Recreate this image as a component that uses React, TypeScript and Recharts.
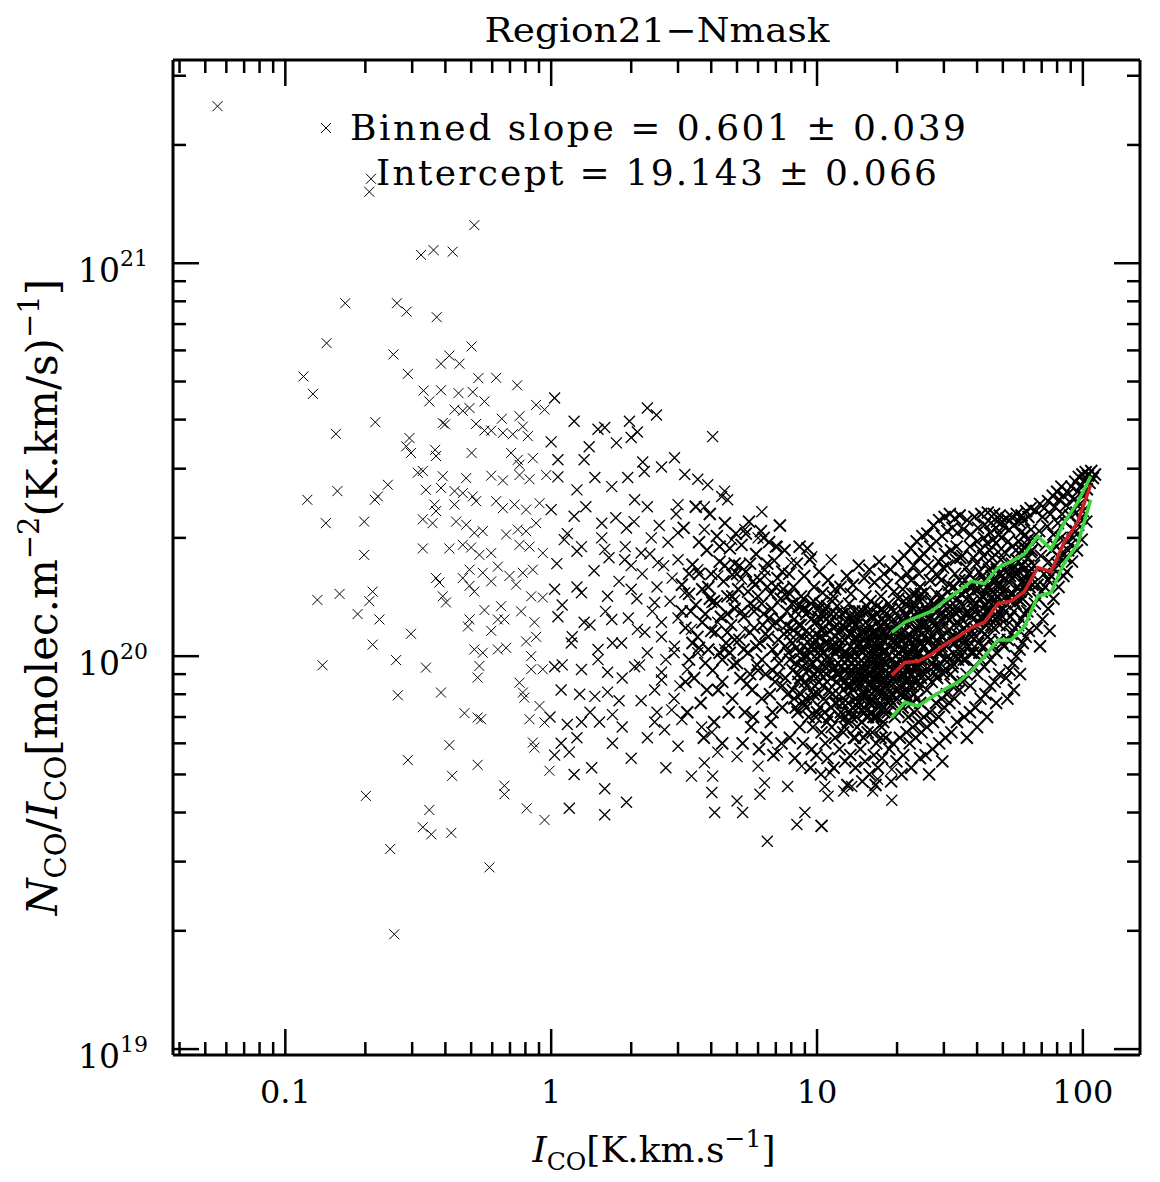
import { ScatterChart, Scatter, XAxis, YAxis } from 'recharts';

const FONT = '"DejaVu Serif", serif';

const X_MIN = 0.0378;
const X_MAX = 164;
const Y_MIN = 9.66e18;
const Y_MAX = 3.29e21;
// ratio values below are written in units of 1e20
const Y_UNIT = 1e20;

const xTicks = [
  0.04, 0.05, 0.06, 0.07, 0.08, 0.09, 0.1, 0.2, 0.3, 0.4, 0.5, 0.6, 0.7, 0.8, 0.9,
  1, 2, 3, 4, 5, 6, 7, 8, 9, 10, 20, 30, 40, 50, 60, 70, 80, 90, 100,
];
const yTicks = [
  1e19, 2e19, 3e19, 4e19, 5e19, 6e19, 7e19, 8e19, 9e19, 1e20, 2e20, 3e20, 4e20, 5e20,
  6e20, 7e20, 8e20, 9e20, 1e21, 2e21, 3e21,
];

// faint low-intensity pixels, I_CO < 1
const lowPixels = [
  [0.0556, 25.1], [0.21, 16.4], [0.207, 15.2], [0.514, 12.5], [0.324, 10.5], [0.361, 10.8], [0.426, 10.7],
  [0.168, 7.91], [0.263, 7.91], [0.286, 7.53], [0.371, 7.29], [0.143, 6.26], [0.255, 5.86], [0.502, 6.14],
  [0.414, 5.82], [0.385, 5.55], [0.452, 5.55], [0.289, 5.23], [0.117, 5.15], [0.127, 4.65], [0.532, 5.1],
  [0.621, 5.11], [0.745, 4.89], [0.331, 4.74], [0.385, 4.75], [0.448, 4.67], [0.507, 4.7], [0.348, 4.45],
  [0.561, 4.45], [0.433, 4.24], [0.465, 4.21], [0.493, 4.28], [0.878, 4.36], [0.944, 4.24], [0.218, 3.94],
  [0.155, 3.68], [0.391, 3.92], [0.399, 3.89], [0.522, 3.9], [0.561, 3.75], [0.595, 3.75], [0.652, 4.02],
  [0.76, 4.08], [0.658, 3.7], [0.717, 3.67], [0.782, 3.84], [0.817, 3.63], [0.293, 3.59], [0.285, 3.42],
  [0.297, 3.29], [0.366, 3.35], [0.369, 3.23], [0.502, 3.29], [0.707, 3.29], [0.749, 3.16], [0.853, 3.19],
  [0.315, 2.93], [0.329, 2.96], [0.391, 2.87], [0.479, 2.84], [0.595, 2.88], [0.76, 2.89], [0.958, 2.89],
  [0.658, 2.8], [0.829, 2.82], [0.76, 3.07], [0.243, 2.73], [0.223, 2.55], [0.217, 2.5], [0.157, 2.63],
  [0.121, 2.5], [0.338, 2.65], [0.385, 2.68], [0.433, 2.63], [0.465, 2.6], [0.507, 2.55], [0.522, 2.48],
  [0.621, 2.48], [0.658, 2.38], [0.728, 2.43], [0.805, 2.36], [0.904, 2.45], [0.364, 2.43], [0.369, 2.34],
  [0.433, 2.43], [0.142, 2.18], [0.198, 2.2], [0.329, 2.23], [0.358, 2.18], [0.439, 2.2], [0.479, 2.16],
  [0.553, 2.08], [0.514, 2.06], [0.677, 2.04], [0.749, 2.1], [0.805, 2.08], [0.878, 2.18], [0.198, 1.81],
  [0.329, 1.88], [0.414, 1.88], [0.465, 1.92], [0.5, 1.89], [0.537, 1.81], [0.595, 1.83], [0.76, 1.92],
  [0.829, 1.9], [0.93, 1.83], [0.493, 1.66], [0.553, 1.63], [0.63, 1.69], [0.697, 1.6], [0.782, 1.63],
  [0.853, 1.66], [0.369, 1.58], [0.38, 1.54], [0.465, 1.58], [0.493, 1.51], [0.514, 1.46], [0.595, 1.55],
  [0.738, 1.52], [0.132, 1.39], [0.16, 1.44], [0.213, 1.46], [0.207, 1.38], [0.391, 1.42], [0.402, 1.37],
  [0.841, 1.42], [0.93, 1.41], [0.187, 1.28], [0.226, 1.24], [0.561, 1.31], [0.648, 1.34], [0.771, 1.3],
  [0.667, 1.24], [0.63, 1.24], [0.865, 1.22], [0.493, 1.24], [0.486, 1.19], [0.297, 1.14], [0.595, 1.16],
  [0.805, 1.09], [0.878, 1.12], [0.213, 1.07], [0.514, 1.04], [0.553, 1.02], [0.63, 1.04], [0.677, 1.05],
  [0.841, 1.0], [0.138, 0.948], [0.261, 0.977], [0.338, 0.935], [0.537, 0.944], [0.529, 0.882], [0.841, 0.926],
  [0.93, 0.926], [0.76, 0.856], [0.782, 0.808], [0.793, 0.784], [0.904, 0.747], [0.265, 0.795], [0.385, 0.808],
  [0.472, 0.716], [0.529, 0.698], [0.545, 0.691], [0.829, 0.691], [0.944, 0.678], [0.414, 0.594], [0.853, 0.603],
  [0.865, 0.585], [0.289, 0.544], [0.529, 0.529], [0.424, 0.496], [0.985, 0.511], [0.201, 0.441], [0.667, 0.468],
  [0.667, 0.445], [0.348, 0.406], [0.809, 0.41], [0.944, 0.383], [0.329, 0.367], [0.354, 0.352], [0.421, 0.355],
  [0.248, 0.323], [0.586, 0.29], [0.257, 0.196],
];

// I_CO between 1 and ~3, plus the lower fringe
const midPixels = [
  [1.03, 4.54], [1.22, 3.96], [2.3, 4.28], [2.49, 4.11], [4.05, 3.62], [6.2, 2.33], [1.5, 3.78], [1.59, 3.82],
  [1.97, 3.96], [2.11, 3.72], [2.0, 3.6], [1.76, 3.49], [1.0, 3.51], [1.39, 3.41], [2.91, 3.2], [2.21, 3.12],
  [1.06, 3.16], [1.33, 3.16], [3.18, 2.9], [3.56, 2.82], [3.88, 2.73], [4.49, 2.63], [4.61, 2.5],
  [1.06, 2.86], [1.25, 2.65], [1.46, 2.85], [1.69, 2.7], [1.94, 2.85], [2.24, 2.95], [2.6, 3.03], [2.06, 2.5],
  [3.0, 2.43], [3.77, 2.4], [4.38, 2.55], [1.0, 2.36], [1.22, 2.27], [1.55, 2.18], [1.92, 2.12], [2.38, 2.0],
  [3.0, 2.06], [3.77, 2.1], [4.78, 1.98], [5.35, 2.1], [6.0, 2.0], [7.1, 1.9], [1.12, 1.98], [1.3, 1.9],
  [1.59, 1.87], [1.89, 1.76], [2.18, 1.83], [2.52, 1.73], [3.0, 1.76], [3.56, 1.66], [4.23, 1.6], [5.2, 1.57],
  [6.35, 1.6], [8.0, 1.73], [9.55, 1.79], [11.3, 1.76], [1.03, 1.48], [1.25, 1.5], [1.63, 1.42], [2.0, 1.48],
  [2.45, 1.37], [3.18, 1.45], [4.02, 1.37], [4.9, 1.39], [5.8, 1.34], [7.1, 1.37], [8.75, 1.34], [1.06, 1.26],
  [1.33, 1.22], [1.69, 1.24], [2.11, 1.17], [2.6, 1.22], [3.37, 1.17], [4.23, 1.22], [5.35, 1.17], [1.19, 1.08],
  [1.5, 1.04], [1.84, 1.08], [2.3, 1.02], [2.91, 1.06], [3.56, 1.02], [4.49, 1.04], [1.03, 0.94], [1.3, 0.925],
  [1.63, 0.91], [2.06, 0.94], [2.6, 0.91], [3.25, 0.925],
  [1.05, 1.72], [1.1, 1.35], [1.15, 2.05], [1.2, 1.12], [1.25, 1.85], [1.3, 1.45], [1.35, 2.4], [1.4, 1.2],
  [1.45, 1.65], [1.5, 0.98], [1.55, 2.0], [1.6, 1.3], [1.65, 1.78], [1.7, 1.08], [1.75, 2.25], [1.8, 1.55],
  [1.85, 0.88], [1.9, 1.9], [1.95, 1.25], [2.0, 1.7], [2.05, 2.2], [2.1, 1.4], [2.15, 0.95], [2.2, 1.62],
  [2.25, 1.15], [2.3, 2.4], [2.35, 1.82], [2.4, 1.3], [2.45, 0.82], [2.5, 1.5], [2.55, 2.15], [2.6, 1.12],
  [2.65, 1.7], [2.7, 0.98], [2.75, 1.95], [2.8, 1.38], [2.85, 1.58], [2.9, 1.02], [2.95, 2.3], [3.0, 1.25],
  [1.1, 0.95], [1.4, 0.72], [1.7, 0.6], [2.0, 0.55], [2.3, 0.62], [2.7, 0.52], [1.25, 0.62], [1.85, 0.66],
  [2.5, 0.72], [2.9, 0.78],
  [6.5, 0.338], [8.4, 0.373], [9.0, 0.4], [4.12, 0.4], [5.25, 0.4], [5.0, 0.428], [6.1, 0.445], [7.75, 0.466],
  [11.0, 0.44], [1.92, 0.425], [1.59, 0.395], [1.17, 0.41], [1.59, 0.46], [1.22, 0.5], [1.42, 0.52], [3.37, 0.495],
  [4.05, 0.495], [4.02, 0.45], [3.77, 0.535], [6.35, 0.476], [10.7, 0.466], [12.6, 0.454], [16.2, 0.454], [19.1, 0.43],
  [1.09, 0.82], [1.28, 0.8], [1.46, 0.79], [1.63, 0.81], [1.8, 0.77], [1.7, 0.71], [0.99, 0.7], [1.15, 0.67],
  [1.3, 0.68], [1.52, 0.68], [1.09, 0.6], [1.17, 0.57], [1.03, 0.56], [2.18, 0.77], [2.45, 0.68], [2.67, 0.65],
  [3.0, 0.59], [3.1, 0.69], [2.84, 0.73], [2.6, 0.87], [3.05, 0.84], [3.68, 0.66], [4.02, 0.64], [4.23, 0.57],
  [5.0, 0.555], [6.0, 0.525], [7.1, 0.57], [8.75, 0.525], [11.2, 0.505], [13.5, 0.466], [16.9, 0.486], [19.1, 0.515],
];

// I_CO between 3 and 12
const cloudPixels = [
  [3.1, 1.52], [3.2, 1.18], [3.3, 0.98], [3.15, 2.12], [3.4, 1.71], [3.5, 1.35], [3.45, 0.88], [3.6, 1.95],
  [3.55, 1.12], [3.7, 1.48], [3.65, 0.76], [3.8, 1.28], [3.85, 1.86], [3.9, 1.04], [3.95, 2.3], [4.0, 1.62],
  [4.05, 0.92], [4.1, 1.38], [4.15, 1.15], [4.2, 2.02], [4.25, 0.82], [4.3, 1.74], [4.35, 1.26], [4.4, 0.98],
  [4.45, 1.55], [4.5, 2.18], [4.55, 1.08], [4.6, 1.42], [4.65, 0.72], [4.7, 1.88], [4.75, 1.2], [4.8, 1.61],
  [4.85, 0.95], [4.9, 1.32], [4.95, 2.05], [3.3, 1.62], [3.5, 2.4], [3.75, 0.62], [4.1, 0.68], [4.4, 0.6],
  [4.8, 0.78], [3.25, 0.72], [3.95, 1.4], [4.6, 1.15], [3.6, 1.05], [4.3, 1.9], [4.9, 1.72], [3.35, 1.3],
  [3.85, 0.82], [4.7, 1.02],
  [5.05, 1.48], [5.1, 1.1], [5.15, 0.88], [5.2, 1.92], [5.3, 1.26], [5.35, 0.72], [5.4, 1.64], [5.5, 1.02],
  [5.55, 2.2], [5.6, 1.36], [5.7, 0.82], [5.75, 1.55], [5.8, 1.18], [5.9, 1.82], [5.95, 0.95], [6.0, 1.42],
  [6.1, 1.08], [6.15, 2.08], [6.2, 0.78], [6.3, 1.28], [6.35, 1.66], [6.4, 0.9], [6.5, 1.5], [6.55, 1.12],
  [6.6, 1.95], [6.7, 0.68], [6.75, 1.32], [6.8, 1.04], [6.9, 1.75], [6.95, 0.86], [7.0, 1.22], [7.1, 1.58],
  [7.2, 0.96], [7.25, 2.15], [7.3, 1.4], [7.4, 0.74], [7.5, 1.14], [7.55, 1.86], [7.6, 0.88], [7.7, 1.3],
  [7.8, 1.02], [7.85, 1.62], [7.9, 0.62], [5.25, 0.6], [5.65, 0.66], [6.05, 0.58], [6.45, 0.62], [6.85, 0.56],
  [7.35, 0.6], [5.45, 0.85], [5.85, 1.52], [6.25, 1.2], [6.65, 0.8], [7.05, 1.0], [7.45, 1.48], [7.75, 0.8],
  [5.1, 1.7], [5.6, 1.15], [6.0, 0.92], [6.6, 1.25], [7.15, 1.1], [7.65, 1.2], [5.4, 2.05], [6.3, 2.0],
  [7.0, 1.9], [5.75, 0.7], [6.8, 0.72], [7.9, 1.44],
  [3.1, 1.3], [3.3, 1.44], [3.4, 1.08], [3.6, 1.62], [3.7, 1.22], [3.9, 1.5], [4.0, 1.16], [4.2, 1.36],
  [4.3, 1.02], [4.5, 1.7], [4.6, 1.28], [4.8, 1.42], [4.9, 1.1], [5.0, 1.62], [5.2, 1.3], [5.3, 1.04],
  [5.5, 1.46], [5.6, 1.72], [5.8, 1.3], [5.9, 1.06], [6.1, 1.56], [6.2, 1.36], [6.4, 1.14], [6.5, 1.72],
  [6.7, 1.44], [6.8, 1.2], [7.0, 1.5], [7.1, 0.9], [7.3, 1.24], [7.4, 1.64], [7.6, 1.06], [7.7, 1.42],
  [7.9, 1.14], [3.2, 0.86], [3.8, 0.96], [4.4, 0.86], [5.0, 0.96], [5.6, 0.9], [6.2, 0.98], [6.8, 0.92],
  [7.4, 0.84], [7.9, 0.98],
  [8.0, 1.18], [8.1, 0.92], [8.15, 1.5], [8.2, 0.78], [8.3, 1.3], [8.35, 1.05], [8.4, 1.72], [8.5, 0.86],
  [8.55, 1.2], [8.6, 0.66], [8.7, 1.42], [8.75, 0.98], [8.8, 1.12], [8.9, 0.76], [8.95, 1.6], [9.0, 1.0],
  [9.1, 1.28], [9.15, 0.84], [9.2, 1.88], [9.3, 0.7], [9.35, 1.14], [9.4, 0.95], [9.5, 1.36], [9.55, 0.58],
  [9.6, 1.06], [9.7, 0.8], [9.75, 1.5], [9.8, 0.9], [9.9, 1.22], [10.0, 0.72], [10.1, 1.02], [10.15, 1.32],
  [10.2, 0.86], [10.3, 1.12], [10.4, 0.64], [10.45, 0.96], [10.5, 1.45], [10.6, 0.78], [10.7, 1.08], [10.8, 0.9],
  [10.85, 1.24], [10.9, 0.68], [11.0, 1.0], [11.1, 0.82], [11.2, 1.16], [11.3, 0.74], [11.4, 1.38], [11.5, 0.92],
  [11.6, 1.06], [11.7, 0.62], [11.8, 0.86], [11.9, 1.2], [8.25, 0.55], [8.85, 0.6], [9.45, 0.52], [9.95, 0.56],
  [10.35, 0.5], [10.95, 0.55], [11.55, 0.52], [10.4, 0.37], [8.6, 1.9], [9.4, 1.76], [10.2, 1.64], [11.0, 1.56],
  [11.7, 1.48], [8.05, 1.36], [8.65, 0.88], [9.25, 1.04], [9.85, 1.1], [10.55, 1.18], [11.15, 0.95], [11.75, 1.02],
  [8.45, 0.72], [9.05, 0.78], [9.65, 0.66], [10.25, 0.74], [10.75, 0.6], [11.35, 0.66], [11.85, 0.76], [8.9, 1.32],
  [9.5, 0.88], [10.05, 0.92], [10.65, 1.3], [11.25, 1.28], [11.9, 1.34],
  [8.1, 1.08], [8.1, 0.82], [8.2, 1.24], [8.3, 0.96], [8.3, 0.74], [8.4, 1.14], [8.5, 1.34], [8.5, 0.9],
  [8.6, 1.02], [8.7, 0.8], [8.7, 1.2], [8.8, 0.94], [8.9, 1.4], [8.9, 1.06], [9.0, 0.86], [9.1, 1.16],
  [9.1, 0.74], [9.2, 1.0], [9.3, 1.3], [9.3, 0.92], [9.4, 1.1], [9.5, 0.78], [9.5, 1.24], [9.6, 0.96],
  [9.7, 1.38], [9.7, 1.04], [9.8, 0.84], [9.9, 1.14], [9.9, 0.7], [10.0, 0.98], [10.1, 1.26], [10.1, 0.8],
  [10.2, 1.06], [10.3, 0.9], [10.3, 1.36], [10.4, 1.16], [10.5, 0.84], [10.5, 1.02], [10.6, 1.26], [10.7, 0.72],
  [10.7, 0.94], [10.8, 1.14], [10.9, 0.86], [10.9, 1.34], [11.0, 1.08], [11.1, 0.7], [11.1, 0.98], [11.2, 1.22],
  [11.3, 0.88], [11.3, 1.06], [11.4, 0.8], [11.5, 1.18], [11.5, 1.42], [11.6, 0.94], [11.7, 0.76], [11.7, 1.12],
  [11.8, 1.28], [11.9, 0.9], [11.9, 1.04],
];

// I_CO between 12 and 25
const corePixels = [
  [12.0, 0.96], [12.1, 0.8], [12.2, 1.1], [12.3, 0.72], [12.4, 1.28], [12.5, 0.88], [12.6, 1.02], [12.7, 0.66],
  [12.8, 1.18], [12.9, 0.84], [13.0, 0.98], [13.1, 0.76], [13.2, 1.36], [13.3, 0.9], [13.4, 1.06], [13.5, 0.7],
  [13.6, 1.22], [13.7, 0.82], [13.8, 0.94], [13.9, 0.62], [14.0, 1.12], [14.1, 0.86], [14.2, 1.0], [14.3, 0.74],
  [14.4, 1.3], [14.5, 0.92], [14.6, 1.04], [14.7, 0.68], [14.8, 1.16], [14.9, 0.8], [15.0, 0.96], [15.1, 0.72],
  [15.2, 1.42], [15.3, 0.88], [15.4, 1.08], [15.5, 0.64], [15.6, 1.2], [15.7, 0.84], [15.8, 0.98], [15.9, 0.76],
  [16.0, 1.26], [16.1, 0.9], [16.2, 1.02], [16.3, 0.7], [16.4, 1.14], [16.5, 0.82], [16.6, 0.94], [16.7, 0.6],
  [16.8, 1.34], [16.9, 0.86], [17.0, 1.06], [17.1, 0.74], [17.2, 1.18], [17.3, 0.92], [17.4, 1.0], [17.5, 0.66],
  [17.6, 1.24], [17.7, 0.8], [17.8, 0.96], [17.9, 0.72],
  [12.15, 0.58], [12.75, 0.54], [13.35, 0.56], [13.95, 0.52], [14.55, 0.58], [15.15, 0.54], [15.75, 0.5], [16.35, 0.56],
  [16.95, 0.52], [17.55, 0.55], [13.0, 0.47], [14.8, 0.48], [16.6, 0.47],
  [12.25, 1.5], [12.95, 1.6], [13.65, 1.52], [14.35, 1.7], [15.05, 1.58], [15.75, 1.66], [16.45, 1.54], [17.15, 1.74],
  [17.85, 1.62],
  [12.05, 1.06], [12.45, 0.76], [12.85, 0.92], [13.25, 1.14], [13.65, 0.86], [14.05, 0.78], [14.45, 1.08], [14.85, 0.9],
  [15.25, 0.8], [15.65, 1.02], [16.05, 0.78], [16.45, 1.08], [16.85, 0.96], [17.25, 0.82], [17.65, 1.1],
  [12.35, 0.94], [12.65, 1.18], [13.15, 0.84], [13.55, 1.0], [13.85, 1.2], [14.25, 0.9], [14.65, 0.84], [15.0, 1.12],
  [15.45, 0.9], [15.95, 1.1], [16.25, 0.88], [16.75, 1.0], [17.05, 0.88], [17.45, 1.14], [17.95, 0.86],
  [12.55, 0.64], [13.05, 0.68], [13.75, 0.62], [14.15, 0.66], [14.95, 0.62], [15.55, 0.7], [16.15, 0.64], [16.65, 0.7],
  [17.35, 0.62], [17.75, 0.68], [12.9, 1.3], [13.9, 1.26], [14.9, 1.3], [15.9, 1.38], [16.9, 1.22], [17.9, 1.3],
  [13.4, 1.44], [15.4, 1.34], [17.4, 1.42],
  [12.1, 0.9], [12.1, 1.16], [12.2, 0.7], [12.3, 1.04], [12.3, 0.84], [12.4, 0.98], [12.5, 1.2], [12.5, 0.76],
  [12.6, 0.92], [12.7, 1.1], [12.7, 0.86], [12.8, 0.7], [12.9, 1.02], [12.9, 1.22], [13.0, 0.8], [13.1, 0.94],
  [13.1, 1.12], [13.2, 0.72], [13.3, 1.0], [13.3, 1.26], [13.4, 0.84], [13.5, 0.96], [13.5, 1.14], [13.6, 0.74],
  [13.7, 1.04], [13.7, 0.9], [13.8, 1.3], [13.9, 0.78], [13.9, 1.1], [14.0, 0.94], [14.1, 0.7], [14.1, 1.2],
  [14.2, 0.84], [14.3, 1.06], [14.3, 0.96], [14.4, 0.76], [14.5, 1.12], [14.5, 0.86], [14.6, 1.26], [14.7, 0.94],
  [14.7, 0.78], [14.8, 1.02], [14.9, 1.2], [14.9, 0.88], [15.0, 0.74], [15.1, 1.04], [15.1, 0.92], [15.2, 1.16],
  [15.3, 0.8], [15.3, 1.0], [15.4, 0.7], [15.5, 0.9], [15.5, 1.12], [15.6, 1.3], [15.7, 0.96], [15.7, 0.76],
  [15.8, 1.08], [15.9, 0.86], [15.9, 1.18], [16.0, 0.72], [16.1, 1.0], [16.1, 0.8], [16.2, 1.14], [16.3, 0.92],
  [16.3, 1.26], [16.4, 0.76], [16.5, 1.04], [16.5, 0.88], [16.6, 1.16], [16.7, 0.82], [16.7, 0.98], [16.8, 0.7],
  [16.9, 1.1], [16.9, 1.28], [17.0, 0.94], [17.1, 0.8], [17.1, 1.04], [17.2, 0.9], [17.3, 1.2], [17.3, 0.76],
  [17.4, 1.06], [17.5, 0.86], [17.5, 1.32], [17.6, 0.98], [17.7, 0.74], [17.7, 1.14], [17.8, 0.88], [17.9, 1.02],
  [17.9, 1.22],
  [18.0, 1.04], [18.2, 0.84], [18.4, 1.2], [18.6, 0.76], [18.8, 0.94], [19.0, 1.32], [19.2, 0.88], [19.4, 1.08],
  [19.6, 0.7], [19.8, 1.0], [20.0, 1.16], [20.2, 0.82], [20.4, 1.26], [20.6, 0.92], [20.8, 1.04], [21.0, 0.74],
  [21.2, 1.38], [21.4, 0.96], [21.6, 1.12], [21.8, 0.86], [22.0, 1.0], [22.2, 0.78], [22.4, 1.22], [22.6, 0.9],
  [22.8, 1.44], [23.0, 1.06], [23.2, 0.8], [23.4, 1.18], [23.6, 0.94], [23.8, 1.3], [24.0, 0.84], [24.2, 1.08],
  [24.4, 1.5], [24.6, 0.98], [24.8, 1.2],
  [18.1, 0.62], [18.7, 0.58], [19.3, 0.6], [19.9, 0.54], [20.5, 0.62], [21.1, 0.56], [21.7, 0.64], [22.3, 0.6],
  [22.9, 0.66], [23.5, 0.62], [24.1, 0.68], [24.7, 0.64], [19.0, 0.48], [20.8, 0.5], [22.6, 0.52], [24.4, 0.55],
  [18.3, 1.52], [18.9, 1.66], [19.5, 1.46], [20.1, 1.74], [20.7, 1.58], [21.3, 1.8], [21.9, 1.62], [22.5, 1.88],
  [23.1, 1.7], [23.7, 1.96], [24.3, 1.78], [24.9, 2.02],
  [18.5, 1.12], [19.1, 0.98], [19.7, 1.2], [20.3, 1.02], [20.9, 0.88], [21.5, 1.28], [22.1, 1.1], [22.7, 0.98],
  [23.3, 1.36], [23.9, 1.12], [24.5, 1.3],
  [18.45, 0.72], [19.05, 0.8], [19.65, 0.86], [20.25, 0.72], [20.85, 0.8], [21.45, 0.82], [22.05, 0.7], [22.65, 0.76],
  [23.25, 0.72], [23.85, 0.78], [24.45, 0.76],
  [18.6, 1.36], [19.4, 1.24], [20.2, 1.4], [21.0, 1.48], [21.8, 1.34], [22.6, 1.56], [23.4, 1.44], [24.2, 1.62],
  [24.9, 1.4], [18.9, 0.9], [19.7, 0.94], [20.5, 1.1], [21.3, 0.9], [22.1, 0.94], [22.9, 0.84], [23.7, 1.02],
  [24.6, 0.88],
  [18.1, 0.96], [18.2, 1.14], [18.3, 0.8], [18.4, 1.0], [18.5, 0.9], [18.6, 1.24], [18.7, 1.06], [18.8, 0.78],
  [18.9, 1.16], [19.0, 0.86], [19.1, 1.1], [19.2, 0.98], [19.3, 0.76], [19.4, 1.3], [19.5, 0.92], [19.6, 1.04],
  [19.7, 0.82], [19.8, 1.16], [19.9, 0.96], [20.0, 0.78], [20.1, 1.08], [20.2, 1.2], [20.3, 0.88], [20.4, 0.98],
  [20.5, 0.8], [20.6, 1.14], [20.7, 1.32], [20.8, 0.9], [20.9, 1.1], [21.0, 0.96], [21.1, 1.22], [21.2, 0.84],
  [21.3, 1.04], [21.4, 1.16], [21.5, 0.92], [21.6, 0.8], [21.7, 1.26], [21.8, 1.0], [21.9, 1.12], [22.0, 0.88],
  [22.1, 1.38], [22.2, 1.02], [22.3, 0.84], [22.4, 1.1], [22.5, 0.96], [22.6, 1.24], [22.7, 1.12], [22.8, 0.9],
  [22.9, 1.02], [23.0, 1.32], [23.1, 0.94], [23.2, 1.16], [23.3, 0.88], [23.4, 1.04], [23.5, 1.26], [23.6, 1.1],
  [23.7, 0.86], [23.8, 1.0], [23.9, 1.4], [24.0, 1.16], [24.1, 0.94], [24.2, 1.28], [24.3, 1.02], [24.4, 0.9],
  [24.5, 1.2], [24.6, 1.44], [24.7, 1.08], [24.8, 0.96], [24.9, 1.3],
];

// I_CO above 25
const brightPixels = [
  [25.0, 1.14], [25.4, 0.9], [25.8, 1.32], [26.2, 1.02], [26.6, 1.56], [27.0, 0.86], [27.4, 1.22], [27.8, 1.06],
  [28.2, 1.44], [28.6, 0.94], [29.0, 1.28], [29.4, 1.12], [29.8, 1.68], [30.2, 0.98], [30.6, 1.36], [31.0, 1.16],
  [31.4, 1.52], [31.8, 0.9], [32.2, 1.26], [32.6, 1.08], [33.0, 1.62], [33.4, 1.0], [33.8, 1.4], [34.2, 1.2],
  [34.6, 1.78],
  [25.2, 0.7], [25.9, 0.66], [26.6, 0.72], [27.3, 0.68], [28.0, 0.76], [28.7, 0.7], [29.4, 0.78], [30.1, 0.74],
  [30.8, 0.8], [31.5, 0.76], [32.2, 0.84], [32.9, 0.78], [33.6, 0.86], [34.3, 0.82], [25.6, 0.56], [27.2, 0.58],
  [28.8, 0.6], [30.4, 0.62], [32.0, 0.64], [33.6, 0.68], [26.4, 0.5], [29.6, 0.54],
  [25.3, 1.82], [26.0, 2.05], [26.7, 1.9], [27.4, 2.15], [28.1, 1.96], [28.8, 2.22], [29.5, 2.02], [30.2, 2.26],
  [30.9, 2.08], [31.6, 2.3], [32.3, 2.12], [33.0, 2.24], [33.7, 2.06], [34.4, 2.28],
  [25.5, 1.46], [26.3, 1.24], [27.1, 1.66], [27.9, 1.34], [28.7, 1.74], [29.5, 1.42], [30.3, 1.82], [31.1, 1.46],
  [31.9, 1.86], [32.7, 1.5], [33.5, 1.9], [34.3, 1.56],
  [25.1, 0.98], [25.9, 0.82], [26.7, 1.1], [27.5, 0.94], [28.3, 0.88], [29.1, 1.02], [29.9, 0.9], [30.7, 1.06],
  [31.5, 0.98], [32.3, 0.94], [33.1, 1.12], [33.9, 1.04], [34.7, 1.0],
  [25.7, 1.2], [26.9, 1.38], [28.1, 1.18], [29.3, 1.56], [30.5, 1.26], [31.7, 1.34], [32.9, 1.3], [34.1, 1.46],
  [26.1, 1.7], [28.5, 1.6], [30.9, 1.7], [33.3, 1.76],
  [25.2, 1.06], [25.4, 1.22], [25.6, 0.92], [25.8, 1.1], [26.0, 1.3], [26.2, 0.88], [26.4, 1.16], [26.6, 1.0],
  [26.8, 1.26], [27.0, 1.12], [27.2, 0.96], [27.4, 1.36], [27.6, 1.04], [27.8, 1.2], [28.0, 0.9], [28.2, 1.1],
  [28.4, 1.3], [28.6, 1.02], [28.8, 1.18], [29.0, 0.96], [29.2, 1.4], [29.4, 1.06], [29.6, 1.24], [29.8, 1.12],
  [30.0, 0.92], [30.3, 1.2], [30.6, 1.06], [30.9, 1.32], [31.2, 1.0], [31.5, 1.24], [31.8, 1.12], [32.1, 1.42],
  [32.4, 0.96], [32.7, 1.2], [33.0, 1.08], [33.3, 1.34], [33.6, 1.14], [33.9, 0.98], [34.2, 1.3], [34.5, 1.1],
  [34.8, 1.44],
  [35.0, 1.24], [35.6, 0.98], [36.2, 1.46], [36.8, 1.1], [37.4, 1.62], [38.0, 1.02], [38.6, 1.34], [39.2, 1.18],
  [39.8, 1.72], [40.4, 1.08], [41.0, 1.4], [41.6, 1.26], [42.2, 1.8], [42.8, 1.14], [43.4, 1.5], [44.0, 1.3],
  [44.6, 1.86], [45.2, 1.2], [45.8, 1.56], [46.4, 1.38], [47.0, 1.94], [47.6, 1.26], [48.2, 1.62], [48.8, 1.44],
  [49.4, 2.0],
  [35.3, 0.86], [36.5, 0.9], [37.7, 0.84], [38.9, 0.94], [40.1, 0.9], [41.3, 0.98], [42.5, 0.94], [43.7, 1.02],
  [44.9, 0.98], [46.1, 1.06], [47.3, 1.02], [48.5, 1.1], [49.7, 1.08],
  [35.8, 0.7], [37.6, 0.72], [39.4, 0.74], [41.2, 0.78], [43.0, 0.8], [44.8, 0.84], [46.6, 0.86], [48.4, 0.9],
  [36.6, 0.62], [40.0, 0.66], [43.6, 0.7], [47.2, 0.76],
  [35.5, 2.1], [36.7, 2.22], [37.9, 2.04], [39.1, 2.26], [40.3, 2.12], [41.5, 2.3], [42.7, 2.16], [43.9, 2.32],
  [45.1, 2.18], [46.3, 2.3], [47.5, 2.2], [48.7, 2.28],
  [35.2, 1.8], [36.4, 1.68], [37.6, 1.9], [38.8, 1.78], [40.0, 1.96], [41.2, 1.86], [42.4, 2.0], [43.6, 1.94],
  [44.8, 2.06], [46.0, 1.98], [47.2, 2.12], [48.4, 2.04], [49.6, 2.2],
  [35.9, 1.1], [37.1, 1.28], [38.3, 1.16], [39.5, 1.48], [40.7, 1.22], [41.9, 1.6], [43.1, 1.3], [44.3, 1.66],
  [45.5, 1.42], [46.7, 1.7], [47.9, 1.5], [49.1, 1.76],
  [36.0, 1.56], [38.4, 1.5], [40.8, 1.64], [43.2, 1.72], [45.6, 1.78], [48.0, 1.84],
  [35.1, 1.04], [35.4, 1.34], [35.7, 1.18], [36.0, 1.28], [36.3, 0.98], [36.6, 1.4], [36.9, 1.2], [37.2, 1.06],
  [37.5, 1.5], [37.8, 1.26], [38.1, 1.12], [38.4, 1.38], [38.7, 1.02], [39.0, 1.3], [39.3, 1.56], [39.6, 1.12],
  [39.9, 1.36], [40.2, 1.22], [40.5, 1.48], [40.8, 1.02], [41.1, 1.3], [41.4, 1.16], [41.7, 1.42], [42.0, 1.24],
  [42.3, 1.06], [42.6, 1.56], [42.9, 1.34], [43.2, 1.2], [43.5, 1.44], [43.8, 1.12], [44.1, 1.38], [44.4, 1.5],
  [44.7, 1.24], [45.0, 1.1], [45.3, 1.6], [45.6, 1.3], [45.9, 1.46], [46.2, 1.18], [46.5, 1.54], [46.8, 1.36],
  [47.1, 1.24], [47.4, 1.66], [47.7, 1.42], [48.0, 1.3], [48.3, 1.54], [48.6, 1.2], [48.9, 1.62], [49.2, 1.38],
  [49.5, 1.5], [49.8, 1.26],
  [50.2, 1.32], [51.0, 1.58], [51.8, 1.2], [52.6, 1.72], [53.4, 1.44], [54.2, 1.9], [55.0, 1.3], [55.8, 1.62],
  [56.6, 1.5], [57.4, 1.96], [58.2, 1.38], [59.0, 1.7], [59.8, 1.56], [60.6, 2.04], [61.4, 1.46], [62.2, 1.78],
  [63.0, 1.64], [63.8, 2.1], [64.6, 1.52],
  [50.6, 1.06], [52.2, 1.1], [53.8, 1.14], [55.4, 1.18], [57.0, 1.2], [58.6, 1.24], [60.2, 1.28], [61.8, 1.3],
  [63.4, 1.34], [51.4, 0.88], [53.0, 0.92], [54.6, 0.96], [56.2, 1.0], [57.8, 1.04], [59.4, 1.08], [61.0, 1.12],
  [62.6, 1.16], [52.0, 0.78], [55.0, 0.82], [58.0, 0.9],
  [50.4, 2.14], [51.6, 2.24], [52.8, 2.1], [54.0, 2.26], [55.2, 2.16], [56.4, 2.3], [57.6, 2.2], [58.8, 2.28],
  [60.0, 2.22], [61.2, 2.34], [62.4, 2.26], [63.6, 2.38],
  [50.8, 1.84], [52.4, 1.96], [54.4, 1.66], [56.0, 1.86], [57.2, 1.74], [58.4, 2.06], [60.4, 1.88], [62.0, 1.98],
  [64.2, 1.86], [53.2, 1.6], [56.8, 1.4], [61.6, 1.62],
  [50.4, 1.46], [51.0, 1.3], [51.6, 1.64], [52.2, 1.4], [52.8, 1.54], [53.4, 1.26], [54.0, 1.72], [54.6, 1.44],
  [55.2, 1.6], [55.8, 1.36], [56.4, 1.76], [57.0, 1.5], [57.6, 1.64], [58.2, 1.46], [58.8, 1.86], [59.4, 1.4],
  [60.0, 1.66], [60.6, 1.52], [61.2, 1.92], [61.8, 1.56], [62.4, 1.7], [63.0, 1.5], [63.6, 1.84], [64.2, 1.62],
  [65.5, 1.7], [66.5, 1.96], [67.5, 1.52], [68.5, 2.08], [69.5, 1.8], [70.5, 2.26], [71.5, 1.62], [72.5, 1.92],
  [73.5, 2.14], [74.5, 1.74], [75.5, 2.3], [76.5, 1.86], [77.5, 2.04], [78.5, 2.4], [79.5, 1.9], [80.5, 2.18],
  [81.5, 2.5], [82.5, 2.0], [83.5, 2.3], [84.5, 2.56],
  [66.0, 1.36], [68.0, 1.4], [70.0, 1.46], [72.0, 1.5], [74.0, 1.56], [76.0, 1.6], [78.0, 1.66], [80.0, 1.72],
  [82.0, 1.78], [84.0, 1.84], [67.0, 1.18], [70.5, 1.24], [74.0, 1.32], [77.5, 1.4], [81.0, 1.5], [84.5, 1.6],
  [69.0, 1.06], [75.0, 1.16],
  [66.5, 2.34], [69.0, 2.44], [71.5, 2.38], [74.0, 2.48], [77.0, 2.56], [80.0, 2.62], [83.0, 2.7],
  [85.5, 2.2], [86.5, 2.42], [87.5, 1.96], [88.5, 2.6], [89.5, 2.28], [90.5, 2.7], [91.5, 2.1], [92.5, 2.5],
  [93.5, 2.78], [94.5, 2.32], [95.5, 2.62], [96.5, 2.86], [97.5, 2.44], [98.5, 2.72], [99.5, 2.9], [100.5, 2.56],
  [101.5, 2.8], [102.5, 2.94], [103.5, 2.66], [104.5, 2.88], [106, 2.76], [107.5, 2.96], [109, 2.84], [111, 2.9],
  [86, 1.78], [88, 1.86], [90, 1.92], [92, 2.0], [94, 2.08], [96, 2.16], [98, 2.24], [100, 2.34],
  [87, 1.64], [91, 1.74], [95, 1.86], [99, 1.98], [103, 2.2],
];

// binned fit: bin centres, median and spread (units of 1e20)
const binCentres = [19.1, 21.4, 24.0, 26.9, 30.2, 33.9, 38.0, 42.7, 47.9, 53.7, 60.3, 67.6, 75.9, 85.1, 95.5, 107];
const binMedian = [0.894, 0.964, 0.97, 1.01, 1.07, 1.12, 1.18, 1.22, 1.36, 1.38, 1.46, 1.68, 1.64, 1.95, 2.19, 2.73];
const binUpper = [1.15, 1.22, 1.26, 1.3, 1.38, 1.46, 1.55, 1.53, 1.68, 1.74, 1.82, 2.02, 1.87, 2.19, 2.46, 2.87];
const binLower = [0.698, 0.763, 0.746, 0.786, 0.824, 0.858, 0.915, 0.999, 1.1, 1.1, 1.19, 1.42, 1.45, 1.73, 1.92, 2.5];

const toPoints = (rows: number[][]) => rows.map(([x, y]) => ({ x, y: y * Y_UNIT }));
const lowPoints = toPoints(lowPixels);
const midPoints = toPoints(midPixels);
const densePoints = toPoints([...cloudPixels, ...corePixels, ...brightPixels]);
const lineOf = (vals: number[]) => binCentres.map((x, i) => ({ x, y: vals[i] * Y_UNIT }));

const isMajor = (v: number) => Math.abs(Math.log10(v) - Math.round(Math.log10(v))) < 1e-6;
const MAJOR = 26;
const MINOR = 13;
const TICK_W = 2.5;

const makeCross = (r: number, w: number) => (props: any) => {
  const { cx, cy } = props;
  if (cx == null || cy == null) return <g />;
  return (
    <path
      d={`M${cx - r},${cy - r}L${cx + r},${cy + r}M${cx - r},${cy + r}L${cx + r},${cy - r}`}
      stroke="#000"
      strokeWidth={w}
      fill="none"
    />
  );
};
const ThinCross = makeCross(5, 1);
const MidCross = makeCross(5.5, 1.3);
const DenseCross = makeCross(6, 1.9);

const Nothing = () => <g />;

const BottomTick = (props: any) => {
  const { x, y, payload } = props;
  const major = isMajor(payload.value);
  return (
    <g>
      <line x1={x} y1={y} x2={x} y2={y - (major ? MAJOR : MINOR)} stroke="#000" strokeWidth={TICK_W} />
      {major && (
        <text x={x} y={y + 48} textAnchor="middle" fontSize={32} fontFamily={FONT} fill="#000">
          {String(payload.value)}
        </text>
      )}
    </g>
  );
};

const TopTick = (props: any) => {
  const { x, y, payload } = props;
  const major = isMajor(payload.value);
  return <line x1={x} y1={y} x2={x} y2={y + (major ? MAJOR : MINOR)} stroke="#000" strokeWidth={TICK_W} />;
};

const LeftTick = (props: any) => {
  const { x, y, payload } = props;
  const major = isMajor(payload.value);
  const exp = Math.round(Math.log10(payload.value));
  return (
    <g>
      <line x1={x} y1={y} x2={x + (major ? MAJOR : MINOR)} y2={y} stroke="#000" strokeWidth={TICK_W} />
      {major && (
        <text x={x - 25} y={y + 19} textAnchor="end" fontSize={33} fontFamily={FONT} fill="#000">
          10
          <tspan fontSize={22} dy={-16}>
            {exp}
          </tspan>
        </text>
      )}
    </g>
  );
};

const RightTick = (props: any) => {
  const { x, y, payload } = props;
  const major = isMajor(payload.value);
  return <line x1={x} y1={y} x2={x - (major ? MAJOR : MINOR)} y2={y} stroke="#000" strokeWidth={TICK_W} />;
};

const frame = { stroke: '#000', strokeWidth: 3 };

export default function App() {
  return (
    <div style={{ position: 'absolute', left: 0, top: 0, width: 1160, height: 1182, background: '#fff' }}>
      <ScatterChart width={1160} height={1182} margin={{ top: 59, right: 19, bottom: 67, left: 73 }}>
        <XAxis
          xAxisId="b"
          type="number"
          dataKey="x"
          scale="log"
          domain={[X_MIN, X_MAX]}
          allowDataOverflow
          ticks={xTicks}
          interval={0}
          tickSize={0}
          tickMargin={0}
          tickLine={false}
          tick={<BottomTick />}
          axisLine={frame}
          height={60}
        />
        <XAxis
          xAxisId="t"
          orientation="top"
          type="number"
          dataKey="x"
          scale="log"
          domain={[X_MIN, X_MAX]}
          allowDataOverflow
          ticks={xTicks}
          interval={0}
          tickSize={0}
          tickMargin={0}
          tickLine={false}
          tick={<TopTick />}
          axisLine={frame}
          height={1}
        />
        <YAxis
          yAxisId="l"
          type="number"
          dataKey="y"
          scale="log"
          domain={[Y_MIN, Y_MAX]}
          allowDataOverflow
          ticks={yTicks}
          interval={0}
          tickSize={0}
          tickMargin={0}
          tickLine={false}
          tick={<LeftTick />}
          axisLine={frame}
          width={100}
        />
        <YAxis
          yAxisId="r"
          orientation="right"
          type="number"
          dataKey="y"
          scale="log"
          domain={[Y_MIN, Y_MAX]}
          allowDataOverflow
          ticks={yTicks}
          interval={0}
          tickSize={0}
          tickMargin={0}
          tickLine={false}
          tick={<RightTick />}
          axisLine={frame}
          width={1}
        />
        <Scatter data={lowPoints} xAxisId="b" yAxisId="l" shape={ThinCross} isAnimationActive={false} />
        <Scatter data={midPoints} xAxisId="b" yAxisId="l" shape={MidCross} isAnimationActive={false} />
        <Scatter data={densePoints} xAxisId="b" yAxisId="l" shape={DenseCross} isAnimationActive={false} />
        <Scatter
          data={lineOf(binUpper)}
          xAxisId="b"
          yAxisId="l"
          shape={Nothing}
          line={{ stroke: '#3cd43c', strokeWidth: 3.5 }}
          isAnimationActive={false}
        />
        <Scatter
          data={lineOf(binLower)}
          xAxisId="b"
          yAxisId="l"
          shape={Nothing}
          line={{ stroke: '#3cd43c', strokeWidth: 3.5 }}
          isAnimationActive={false}
        />
        <Scatter
          data={lineOf(binMedian)}
          xAxisId="b"
          yAxisId="l"
          shape={Nothing}
          line={{ stroke: '#cc2424', strokeWidth: 3.5 }}
          isAnimationActive={false}
        />
      </ScatterChart>

      <svg
        width={1160}
        height={1182}
        style={{ position: 'absolute', left: 0, top: 0, pointerEvents: 'none' }}
        fontFamily={FONT}
      >
        <text x={657} y={42} textAnchor="middle" fontSize={34} textLength={345} lengthAdjust="spacingAndGlyphs">
          Region21−Nmask
        </text>
        <path d="M321,123L331,133M321,133L331,123" stroke="#000" strokeWidth={1} fill="none" />
        <text x={350} y={140} fontSize={36} textLength={616} lengthAdjust="spacing">
          Binned slope = 0.601 ± 0.039
        </text>
        <text x={376} y={185} fontSize={36} textLength={561} lengthAdjust="spacing">
          Intercept = 19.143 ± 0.066
        </text>
        <text x={654} y={1162} textAnchor="middle" fontSize={36}>
          <tspan fontStyle="italic">I</tspan>
          <tspan fontSize={25} dy={8}>CO</tspan>
          <tspan dy={-8}>[K.km.s</tspan>
          <tspan fontSize={25} dy={-15}>−1</tspan>
          <tspan dy={15}>]</tspan>
        </text>
        <text transform="translate(57,597) rotate(-90)" textAnchor="middle" fontSize={42}>
          <tspan fontStyle="italic">N</tspan>
          <tspan fontSize={29} dy={9}>CO</tspan>
          <tspan dy={-9}>/</tspan>
          <tspan fontStyle="italic">I</tspan>
          <tspan fontSize={29} dy={9}>CO</tspan>
          <tspan dy={-9}>[molec.m</tspan>
          <tspan fontSize={29} dy={-18}>−2</tspan>
          <tspan dy={18}>(K.km/s)</tspan>
          <tspan fontSize={29} dy={-18}>−1</tspan>
          <tspan dy={18}>]</tspan>
        </text>
      </svg>
    </div>
  );
}
